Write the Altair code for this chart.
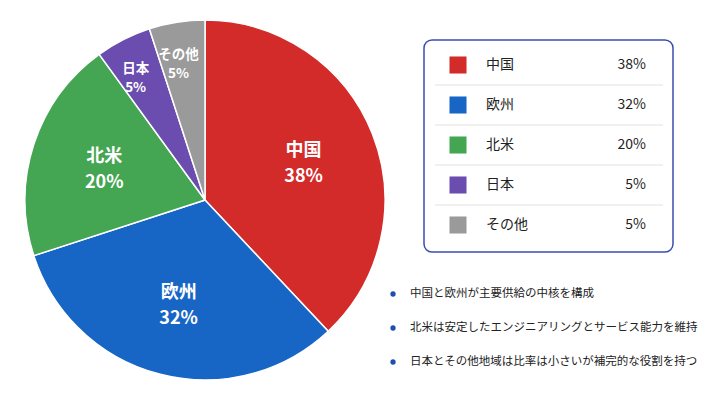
import altair as alt
import pandas as pd

regions = ["中国", "欧州", "北米", "日本", "その他"]
shares = [38, 32, 20, 5, 5]
colors = ["#D32A2A", "#1766C6", "#44A552", "#6A4DAE", "#9A9A9A"]
bullets = [
    "中国と欧州が主要供給の中核を構成",
    "北米は安定したエンジニアリングとサービス能力を維持",
    "日本とその他地域は比率は小さいが補完的な役割を持つ",
]

FONT = "Noto Sans CJK JP"
CX, CY, R = 197, 192, 180

df = pd.DataFrame({
    "region": regions,
    "share": shares,
    "idx": list(range(len(regions))),
})
df["pct"] = df["share"].astype(str) + "%"
df["label"] = df["region"] + "\n" + df["pct"]
df["last"] = df["idx"] == len(regions) - 1

bdf = pd.DataFrame({"text": bullets, "bidx": list(range(len(bullets)))})

color_scale = alt.Scale(domain=regions, range=colors)

base = alt.Chart(df)

pie = base.mark_arc(outerRadius=R, stroke="white", strokeWidth=1.5).encode(
    theta=alt.Theta("share:Q", stack=True),
    order=alt.Order("idx:Q"),
    color=alt.Color("region:N", scale=color_scale, legend=None),
    x=alt.value(CX),
    y=alt.value(CY),
)

stacked = base.transform_joinaggregate(total="sum(share)").transform_window(
    cum="sum(share)", sort=[alt.SortField("idx")], frame=[None, 0]
).transform_calculate(mid="(datum.cum - datum.share / 2) / datum.total")

theta_mid = alt.Theta("mid:Q", stack=None, scale=alt.Scale(domain=[0, 1], range=[0, 6.283185307]))

big_labels = stacked.transform_filter("datum.share >= 10").mark_text(
    radius=106, font=FONT, fontSize=18, fontWeight="bold", color="white",
    lineBreak="\n", lineHeight=26, baseline="middle", align="center", dy=-10,
).encode(
    theta=theta_mid,
    text="label:N",
    x=alt.value(CX),
    y=alt.value(CY),
)

small_labels = stacked.transform_filter("datum.share < 10").mark_text(
    radius=144, font=FONT, fontSize=13.5, fontWeight="bold", color="white",
    lineBreak="\n", lineHeight=19, baseline="middle", align="center", dy=-3, dx=-4,
).encode(
    theta=theta_mid,
    text="label:N",
    x=alt.value(CX),
    y=alt.value(CY),
)

# legend box
box = alt.Chart(pd.DataFrame({"k": [0]})).mark_rect(
    fill="white", stroke="#3A4DB0", strokeWidth=1.5, cornerRadius=8,
).encode(
    x=alt.value(416), x2=alt.value(665),
    y=alt.value(32), y2=alt.value(244),
)

lscale = alt.Scale(domain=regions, range=[37, 237], paddingInner=0, paddingOuter=0)
ly = alt.Y("region:N", sort=regions, axis=None, scale=lscale)

seps = base.transform_filter("!datum.last").mark_rule(color="#E2E2E2", strokeWidth=1).encode(
    y=alt.Y("region:N", sort=regions, axis=None, bandPosition=1, scale=lscale),
    x=alt.value(427), x2=alt.value(655),
)

swatches = base.mark_square(size=290, opacity=1).encode(
    y=ly,
    x=alt.value(450),
    color=alt.Color("region:N", scale=color_scale, legend=None),
)

lnames = base.mark_text(font=FONT, fontSize=14, color="#222222", align="left", baseline="middle").encode(
    y=ly, x=alt.value(478), text="region:N",
)

lvals = base.mark_text(font=FONT, fontSize=14, color="#222222", align="right", baseline="middle").encode(
    y=ly, x=alt.value(638), text="pct:N",
)

by = alt.Y("bidx:O", axis=None, scale=alt.Scale(range=[269, 371], paddingInner=0, paddingOuter=0))

bdots = alt.Chart(bdf).mark_circle(size=28, color="#1E4FAF", opacity=1).encode(
    y=by, x=alt.value(385),
)

btext = alt.Chart(bdf).mark_text(font=FONT, fontSize=11.5, color="#222222", align="left", baseline="middle").encode(
    y=by, x=alt.value(402), text="text:N",
)

chart = alt.layer(
    pie, big_labels, small_labels, box, seps, swatches, lnames, lvals, bdots, btext
).resolve_scale(y="independent", x="independent", theta="independent").properties(
    width=693, height=392, padding=0, autosize="none", background="white",
).configure_view(stroke=None)

chart.save("out.html", embed_options={"renderer": "svg", "actions": False})
